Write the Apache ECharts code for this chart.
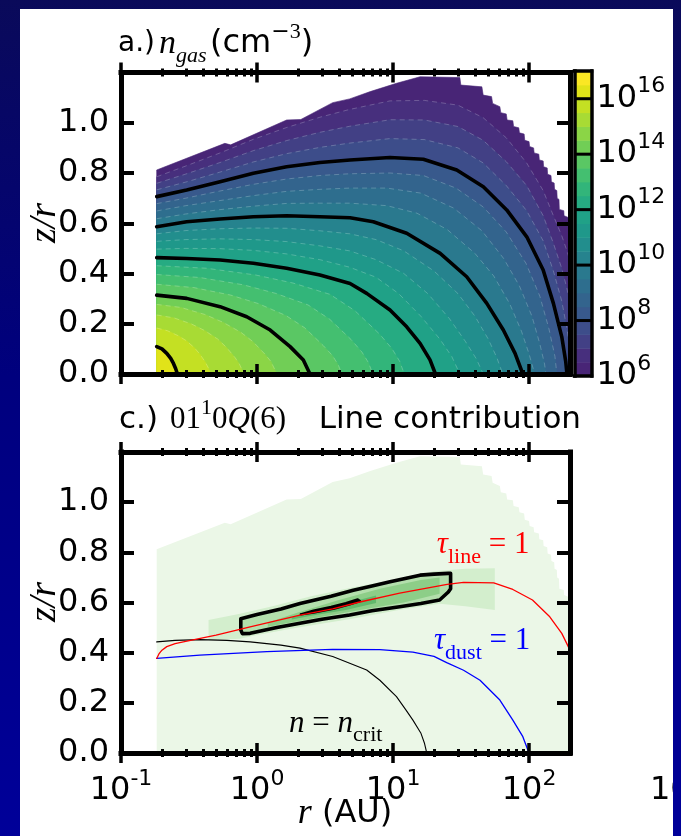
<!DOCTYPE html>
<html>
<head>
<meta charset="utf-8">
<title>Gas density and line contribution</title>
<script src="https://cdn.jsdelivr.net/npm/echarts@6.0.0/dist/echarts.min.js"></script>
<style>
  html, body { margin: 0; padding: 0; }
  body { width: 681px; height: 836px; overflow: hidden; position: relative;
         background: linear-gradient(to bottom, #0a0a5a 0%, #00007e 45%, #000099 100%); }
  #chart { position: absolute; left: 20px; top: 9px; width: 653px; height: 827px;
           background: #fff; overflow: hidden; }
</style>
</head>
<body>
<div id="chart"></div>
<script>
// ---------------- model grid ----------------
const rInner = 0.183;   // AU
const rOuter = 200;     // AU

// upper boundary of the model grid (r [AU], z/r)
const modelEdge = [
  [0.183,0.812],[0.58,0.918],[0.64,0.912],[1.65,1.011],[2.1,1.013],[3.6,1.08],[4.8,1.095],
  [6.8,1.124],[10.6,1.157],[15.8,1.183],[31,1.18],[31.5,1.15],[45,1.143],[46,1.11],[53,1.104],
  [54,1.077],[61,1.064],[62,1.04],[68,1.035],[69,1.011],[76,1.008],[77,0.985],[84,0.98],[85,0.96],
  [92,0.955],[93,0.93],[100,0.925],[101,0.905],[108,0.9],[109,0.88],[118,0.875],[119,0.852],
  [127,0.848],[128,0.825],[136,0.82],[137,0.795],[145,0.79],[146,0.765],[153,0.76],[154,0.735],
  [160,0.73],[161,0.7],[166,0.695],[167,0.655],[180,0.65],[181,0.63],[200,0.62]
];

// ---------------- panel a: n_gas ----------------
// filled-contour levels, log10(n / cm^-3)
const nLevels = [6, 6.5, 7, 7.5, 8, 8.5, 9, 9.5, 10, 10.5, 11, 11.5, 12, 12.5, 13, 13.5, 14, 14.5, 15, 15.5, 16];
const nBoldLevels = [8, 10, 12, 14, 16];
const colorbarLevels = [6, 6.5, 7, 7.5, 8, 8.5, 9, 9.5, 10, 10.5, 11, 11.5, 12, 12.5, 13, 13.5, 14, 14.5, 15, 15.5, 16, 16.5, 17];
const colorbarTicks = [1e6, 1e8, 1e10, 1e12, 1e14, 1e16];

// contour traces (r [AU], z/r), from the inner edge down to the midplane / outer edge
const n6_5 = [[0.183,0.785],[0.3,0.828],[0.53,0.879],[0.94,0.934],[1.65,0.981],[2.9,1.022],[4.8,1.053],[9.5,1.087],[17,1.089],[30,1.07],[46,1.02],[68,0.94],[96,0.84],[127,0.73],[151,0.63],[174,0.55],[190,0.49],[200,0.45]];
const n7_0 = [[0.183,0.759],[0.3,0.796],[0.53,0.841],[0.94,0.889],[1.65,0.929],[2.9,0.962],[4.8,0.986],[9.5,1.012],[17,1.011],[30,0.985],[46,0.93],[68,0.845],[96,0.75],[127,0.63],[151,0.52],[174,0.42],[190,0.34],[200,0.28]];
const n7_5 = [[0.183,0.733],[0.3,0.764],[0.53,0.803],[0.94,0.844],[1.65,0.877],[2.9,0.902],[4.8,0.919],[9.5,0.937],[17,0.933],[30,0.9],[46,0.84],[68,0.75],[96,0.65],[127,0.53],[151,0.41],[174,0.29],[190,0.18],[200,0.1]];
const n8_0 = [[0.183,0.706],[0.304,0.732],[0.535,0.765],[0.94,0.799],[1.65,0.825],[2.9,0.842],[4.83,0.852],[9.5,0.862],[16.7,0.855],[29.4,0.812],[46.1,0.745],[68.5,0.653],[96.2,0.546],[127,0.414],[151,0.281],[174,0.148],[186,0.05],[190,0]];
const n8_5 = [[0.183,0.678],[0.3,0.7],[0.53,0.728],[0.94,0.755],[1.65,0.776],[2.9,0.79],[4.8,0.797],[9.5,0.8],[16.7,0.79],[29,0.74],[46,0.665],[68,0.565],[95,0.44],[120,0.31],[140,0.18],[155,0.07],[160,0]];
const n9_0 = [[0.183,0.649],[0.3,0.67],[0.53,0.69],[0.94,0.71],[1.65,0.727],[2.9,0.735],[4.8,0.74],[9,0.74],[16,0.72],[28,0.66],[45,0.57],[65,0.46],[85,0.35],[105,0.23],[120,0.12],[130,0.04],[133,0]];
const n9_5 = [[0.183,0.618],[0.3,0.637],[0.53,0.654],[0.94,0.668],[1.65,0.679],[2.9,0.68],[4.8,0.68],[9,0.67],[15,0.64],[25,0.575],[40,0.48],[55,0.39],[72,0.28],[88,0.17],[100,0.08],[110,0]];
const n10_0 = [[0.183,0.586],[0.304,0.606],[0.535,0.617],[0.94,0.626],[1.65,0.63],[2.9,0.626],[4.83,0.622],[7.16,0.606],[12.6,0.56],[22.2,0.48],[34.8,0.387],[48.9,0.281],[64.7,0.175],[78.9,0.082],[90,0]];
const n10_5 = [[0.183,0.558],[0.3,0.571],[0.53,0.578],[0.94,0.581],[1.65,0.58],[2.9,0.57],[4.8,0.558],[7.5,0.535],[12,0.49],[20,0.41],[30,0.32],[40,0.23],[50,0.14],[58,0.065],[64,0]];
const n11_0 = [[0.183,0.528],[0.3,0.535],[0.53,0.538],[0.94,0.535],[1.65,0.527],[2.9,0.51],[4.8,0.49],[7.5,0.455],[12,0.4],[18,0.32],[26,0.22],[34,0.13],[41,0.06],[46,0]];
const n11_5 = [[0.183,0.497],[0.3,0.5],[0.53,0.499],[0.94,0.492],[1.65,0.478],[2.9,0.455],[4.8,0.425],[7.5,0.385],[11,0.32],[16,0.23],[22,0.14],[27,0.07],[31,0]];
const n12_0 = [[0.183,0.463],[0.304,0.46],[0.535,0.454],[0.94,0.441],[1.65,0.421],[2.9,0.394],[4.83,0.36],[6.4,0.321],[9.5,0.255],[12.6,0.188],[15.8,0.122],[18.7,0.056],[20.5,0]];
const n12_5 = [[0.183,0.431],[0.423,0.421],[0.978,0.394],[1.84,0.362],[3.44,0.317],[5.24,0.252],[7.96,0.159],[9.82,0.101],[11.2,0.05],[12.1,0]];
const n13_0 = [[0.183,0.396],[0.38,0.384],[0.791,0.355],[1.37,0.321],[2.37,0.275],[3.42,0.218],[4.92,0.137],[5.91,0.087],[6.6,0.045],[7.1,0]];
const n13_5 = [[0.183,0.357],[0.343,0.344],[0.641,0.314],[1.025,0.28],[1.64,0.232],[2.24,0.184],[3.07,0.113],[3.59,0.073],[3.95,0.037],[4.2,0]];
const n14_0 = [[0.183,0.314],[0.304,0.301],[0.535,0.268],[0.84,0.228],[1.25,0.175],[1.75,0.109],[2.19,0.056],[2.45,0]];
const n14_5 = [[0.183,0.277],[0.275,0.265],[0.413,0.237],[0.561,0.206],[0.76,0.166],[0.933,0.129],[1.143,0.079],[1.265,0.05],[1.4,0]];
const n15_0 = [[0.183,0.235],[0.246,0.223],[0.33,0.199],[0.412,0.173],[0.514,0.139],[0.596,0.106],[0.69,0.065],[0.743,0.039],[0.8,0]];
const n15_5 = [[0.183,0.183],[0.22,0.172],[0.264,0.152],[0.303,0.132],[0.347,0.104],[0.38,0.079],[0.416,0.048],[0.436,0.027],[0.456,0]];
const n16_0 = [[0.183,0.109],[0.2,0.1],[0.217,0.082],[0.232,0.062],[0.243,0.042],[0.252,0.022],[0.26,0]];

// level 6 fills the whole model grid
const nTraces = [null, n6_5, n7_0, n7_5, n8_0, n8_5, n9_0, n9_5, n10_0, n10_5, n11_0, n11_5,
                 n12_0, n12_5, n13_0, n13_5, n14_0, n14_5, n15_0, n15_5, n16_0];

// ---------------- panel c: 01^10 Q(6) line contribution ----------------
const emitHalo = [[0.44,0.45],[0.44,0.53],[0.75,0.555],[1.3,0.585],[2.5,0.625],[5,0.66],[10,0.69],[20,0.725],[34,0.735],[56,0.737],[56,0.57],[34,0.585],[22,0.595],[11,0.57],[5,0.535],[2,0.5],[1,0.47],[0.75,0.455],[0.44,0.45]];
const emitBody = [[0.76,0.535],[1,0.552],[1.5,0.574],[2.07,0.596],[3.5,0.625],[5.1,0.649],[7,0.666],[9.5,0.683],[12.5,0.697],[15.8,0.709],[20,0.713],[25.5,0.716],[26.5,0.716],[26.5,0.655],[25.5,0.642],[22,0.61],[16,0.596],[11.2,0.583],[7,0.567],[4.8,0.55],[3,0.533],[2.07,0.517],[1.4,0.5],[0.89,0.477],[0.78,0.476],[0.76,0.49],[0.76,0.535]];
const emitMid = [[1.2,0.52],[2,0.56],[4,0.61],[8,0.655],[16,0.69],[22,0.7],[22,0.635],[12,0.6],[6,0.572],[3,0.543],[1.2,0.503]];
const emitPeak = [[1.8,0.54],[3,0.573],[5,0.603],[7.5,0.628],[7.5,0.598],[4.5,0.57],[2.5,0.547],[1.8,0.532]];
const emitPeakEdge = [[2.1,0.553],[2.6,0.567],[3.5,0.582],[4.5,0.597],[5.5,0.612],[5.7,0.606],[4.8,0.593],[3.7,0.576],[2.6,0.56],[2.1,0.553]];

const tauLine = [[0.183,0.377],[0.19,0.395],[0.2,0.41],[0.217,0.424],[0.25,0.436],[0.287,0.443],[0.5,0.47],[0.89,0.503],[2.07,0.55],[3.6,0.575],[5.5,0.6],[11.2,0.637],[25,0.672],[33,0.68],[55,0.678],[76,0.652],[106,0.61],[142,0.543],[174,0.477],[200,0.41]];
const tauDust = [[0.183,0.377],[0.38,0.39],[1.18,0.404],[3.6,0.413],[8,0.412],[14,0.402],[20,0.385],[24.8,0.36],[33,0.33],[43.6,0.29],[61,0.211],[76,0.131],[90,0.065],[98,0.012],[100,0]];
const nCrit = [[0.183,0.443],[0.25,0.449],[0.38,0.452],[0.6,0.449],[0.89,0.443],[1.5,0.43],[2.07,0.418],[3.6,0.385],[6.4,0.331],[8,0.29],[10.6,0.225],[12.5,0.17],[14,0.131],[16,0.08],[17,0.04],[17.7,0]];

// ---------------- axis ticks ----------------
const rMajor = [0.1, 1, 10, 100];
const rMinor = [0.2,0.3,0.4,0.5,0.6,0.7,0.8,0.9,2,3,4,5,6,7,8,9,20,30,40,50,60,70,80,90];
const zrTicks = [0, 0.2, 0.4, 0.6, 0.8, 1.0];

// ---------------- colours ----------------
const viridisTable = ['#440154','#471164','#482475','#472f7d','#414487','#3b528b','#355f8d','#2f6c8e',
  '#2a788e','#25848e','#21918c','#1e9c89','#22a884','#2fb47c','#44bf70','#5ec962','#7ad151',
  '#9bd93c','#bddf26','#dfe318','#fde725'];
function hexRgb(h) { return [parseInt(h.slice(1,3),16), parseInt(h.slice(3,5),16), parseInt(h.slice(5,7),16)]; }
function viridis(t) {
  t = Math.max(0, Math.min(1, t));
  const x = t * (viridisTable.length - 1);
  const i = Math.min(Math.floor(x), viridisTable.length - 2);
  const f = x - i;
  const a = hexRgb(viridisTable[i]), b = hexRgb(viridisTable[i + 1]);
  return 'rgb(' + a.map((v, k) => Math.round(v + (b[k] - v) * f)).join(',') + ')';
}
const normLo = 5.0, normHi = 16.8;   // colour scale limits, log10 n
function bandColor(lvl) { return viridis((lvl + 0.25 - normLo) / (normHi - normLo)); }
const greenShades = ['#ebf7e7', '#d3eecd', '#b3dfac', '#8dce88', '#62b96c'];

// ---------------- chart ----------------
const SANS = 'DejaVu Sans';
const SERIF = 'Liberation Serif';
const spine = { show: true, onZero: false, lineStyle: { color: '#000', width: 5, cap: 'square' } };
const powRich = {
  b: { fontFamily: SANS, fontSize: 32, lineHeight: 46, verticalAlign: 'middle', color: '#000' },
  s: { fontFamily: SANS, fontSize: 22, lineHeight: 26, verticalAlign: 'top', color: '#000' }
};
function powLabel(v) {
  const e = Math.round(Math.log10(v));
  return '{b|10}{s|' + (e < 0 ? '-' + (-e) : e) + '}';
}

function rAxes(grid, labelled) {
  const base = { type: 'log', logBase: 10, min: 0.1, max: 200, gridIndex: grid, splitLine: { show: false }, z: 10 };
  const major = { inside: true, length: 20, customValues: rMajor, lineStyle: { color: '#000', width: 3.5 } };
  const minor = { inside: true, length: 8, customValues: rMinor, lineStyle: { color: '#000', width: 3 } };
  const none = { show: false };
  const hidden = { show: false, onZero: false };
  return [
    Object.assign({}, base, { position: 'bottom', axisLine: spine, axisTick: none,
      axisLabel: labelled ? { customValues: rMajor, formatter: powLabel, rich: powRich, margin: 15 } : none }),
    Object.assign({}, base, { position: 'top', axisLine: spine, axisTick: none, axisLabel: none }),
    Object.assign({}, base, { position: 'bottom', offset: 10, axisLine: hidden, axisTick: major, axisLabel: none }),
    Object.assign({}, base, { position: 'bottom', offset: 4, axisLine: hidden, axisTick: minor, axisLabel: none }),
    Object.assign({}, base, { position: 'top', offset: 10, axisLine: hidden, axisTick: major, axisLabel: none }),
    Object.assign({}, base, { position: 'top', offset: 4, axisLine: hidden, axisTick: minor, axisLabel: none })
  ];
}
function zrAxes(grid) {
  const base = { type: 'value', min: 0, max: 1.2, gridIndex: grid, splitLine: { show: false }, z: 10,
    axisLine: spine,
    axisTick: { inside: true, length: 13, customValues: zrTicks, lineStyle: { color: '#000', width: 4 } } };
  return [
    Object.assign({}, base, { position: 'left',
      axisLabel: { customValues: zrTicks, formatter: v => v.toFixed(1), fontFamily: SANS, fontSize: 32, color: '#000', margin: 12 } }),
    Object.assign({}, base, { position: 'right', axisLabel: { show: false } })
  ];
}
const cbFrame = { show: true, onZero: false, lineStyle: { color: '#000', width: 3.5, cap: 'square' } };
const cbX = pos => ({ type: 'value', min: 0, max: 1, gridIndex: 2, position: pos, axisLine: cbFrame,
  axisTick: { show: false }, axisLabel: { show: false }, splitLine: { show: false }, z: 10 });
const cbY = (pos, labelled) => ({ type: 'log', logBase: 10, min: 1e6, max: 1e17, gridIndex: 2, position: pos,
  axisLine: cbFrame, axisTick: { show: false }, splitLine: { show: false }, z: 10,
  axisLabel: labelled ? { customValues: colorbarTicks, formatter: powLabel, rich: powRich, margin: 5 } : { show: false } });

function levelRing(i) {
  const trace = nTraces[i];
  if (!trace) return [[rInner, 0]].concat(modelEdge, [[rOuter, 0]]);
  const ring = trace.slice();
  if (trace[trace.length - 1][1] > 0) ring.push([rOuter, 0]);
  ring.push([rInner, 0]);
  return ring;
}

function renderDensity(params, api) {
  const i = params.dataIndex;
  const lvl = nLevels[i];
  const children = [{ type: 'polygon', shape: { points: levelRing(i).map(p => api.coord(p)) },
    style: { fill: bandColor(lvl), stroke: bandColor(lvl), lineWidth: 0.6 } }];
  const trace = nTraces[i];
  if (trace && nBoldLevels.indexOf(lvl) < 0) {
    children.push({ type: 'polyline', shape: { points: trace.map(p => api.coord(p)) },
      style: { fill: null, stroke: 'rgba(255,255,255,0.22)', lineWidth: 1, lineDash: [5, 4] } });
  }
  return { type: 'group', children: children };
}

function renderColorbar(params, api) {
  const i = params.dataIndex;
  const a = api.coord([0, Math.pow(10, colorbarLevels[i])]);
  const b = api.coord([1, Math.pow(10, colorbarLevels[i + 1])]);
  return { type: 'rect', shape: { x: a[0], y: b[1], width: b[0] - a[0], height: a[1] - b[1] + 0.5 },
    style: { fill: bandColor(colorbarLevels[i]) } };
}
function renderColorbarLines(params, api) {
  const v = Math.pow(10, nBoldLevels[params.dataIndex]);
  const a = api.coord([0, v]), b = api.coord([1, v]);
  return { type: 'line', shape: { x1: a[0], y1: a[1], x2: b[0], y2: b[1] }, style: { stroke: '#000', lineWidth: 3 } };
}
const emitLayers = [null, emitHalo, emitBody, emitMid, emitPeak];
function renderEmission(params, api) {
  const i = params.dataIndex;
  const ring = emitLayers[i] || [[rInner, 0]].concat(modelEdge, [[rOuter, 0]]);
  return { type: 'polygon', shape: { points: ring.map(p => api.coord(p)) }, style: { fill: greenShades[i] } };
}

function lineSeries(data, color, width, xi, yi, z) {
  return { type: 'line', data: data, xAxisIndex: xi, yAxisIndex: yi, symbol: 'none', silent: true,
    lineStyle: { color: color, width: width, join: 'round', cap: 'round' }, z: z || 4, animation: false };
}

const chart = echarts.init(document.getElementById('chart'), null, { renderer: 'canvas', width: 653, height: 827 });

const series = [
  { type: 'custom', xAxisIndex: 0, yAxisIndex: 0, renderItem: renderDensity, z: 1,
    data: nLevels.map((l, i) => [1, 0.5, i]), silent: true },
  { type: 'custom', xAxisIndex: 12, yAxisIndex: 4, renderItem: renderColorbar, z: 1,
    data: colorbarLevels.slice(0, -1).map((l, i) => [0.5, Math.pow(10, l + 0.25), i]), silent: true },
  { type: 'custom', xAxisIndex: 12, yAxisIndex: 4, renderItem: renderColorbarLines, z: 3,
    data: nBoldLevels.map((l, i) => [0.5, Math.pow(10, l), i]), silent: true },
  { type: 'custom', xAxisIndex: 6, yAxisIndex: 2, renderItem: renderEmission, z: 1,
    data: emitLayers.map((l, i) => [1, 0.5, i]), silent: true }
];
[n8_0, n10_0, n12_0, n14_0, n16_0].forEach(tr => series.push(lineSeries(tr, '#000', 3.6, 0, 0, 3)));
series.push(lineSeries(emitBody, '#000', 3.6, 6, 2, 3));
series.push(lineSeries(emitPeakEdge, '#000', 2.4, 6, 2, 3));
series.push(lineSeries(nCrit, '#000', 1.1, 6, 2, 4));
series.push(lineSeries(tauDust, '#0000ff', 1.3, 6, 2, 4));
series.push(lineSeries(tauLine, '#ff0000', 1.3, 6, 2, 5));

const gridBase = { containLabel: false, outerBoundsMode: 'none' };
chart.setOption({
  animation: false,
  backgroundColor: '#ffffff',
  grid: [
    Object.assign({ left: 101, top: 63.5, width: 449, height: 301.5 }, gridBase),
    Object.assign({ left: 101, top: 443, width: 449, height: 301 }, gridBase),
    Object.assign({ left: 554.5, top: 62, width: 17, height: 305 }, gridBase)
  ],
  xAxis: [].concat(rAxes(0, false), rAxes(1, true), [cbX('bottom'), cbX('top')]),
  yAxis: [].concat(zrAxes(0), zrAxes(1), [cbY('left', false), cbY('right', true)]),
  series: series
});

// ---------------- titles, axis names and annotations ----------------
const textRich = (size, color) => ({
  i: { fontFamily: SERIF, fontStyle: 'italic', fontSize: size, lineHeight: 46, verticalAlign: 'middle', fill: color },
  r: { fontFamily: SERIF, fontSize: size, lineHeight: 46, verticalAlign: 'middle', fill: color },
  sb: { fontFamily: SERIF, fontSize: Math.round(size * 0.7), lineHeight: 24, verticalAlign: 'bottom', fill: color },
  sbi: { fontFamily: SERIF, fontStyle: 'italic', fontSize: Math.round(size * 0.66), lineHeight: 24, verticalAlign: 'bottom', fill: color },
  sp: { fontFamily: SERIF, fontSize: Math.round(size * 0.7), lineHeight: 26, verticalAlign: 'top', fill: color },
  spm: { fontFamily: SANS, fontSize: Math.round(size * 0.7), lineHeight: 26, verticalAlign: 'top', fill: color },
  p: { fontFamily: SANS, fontSize: size, lineHeight: 46, verticalAlign: 'middle', fill: color }
});
function txt(x, y, text, rich, align, rotation) {
  return { type: 'text', x: x, y: y, rotation: rotation || 0, z: 50, silent: true,
    style: { text: text, rich: rich, align: align || 'left', verticalAlign: 'middle' } };
}
const annotations = [
  { text: '{i|τ}{sb|line}{r| = 1}', r: 21.0, zr: 0.83, color: '#ff0000' },
  { text: '{i|τ}{sb|dust}{r| = 1}', r: 20.0, zr: 0.446, color: '#0000ff' },
  { text: '{i|n}{r| = }{i|n}{sb|crit}', r: 1.72, zr: 0.118, color: '#000000' }
];
const g = [
  txt(98, 35, '{p|a.)}', textRich(28, '#000')),
  txt(139, 35, '{i|n}{sbi|gas}', textRich(34, '#000')),
  txt(190, 35, '{p|(cm}{spm|−}{sp|3}{p|)}', textRich(32, '#000')),
  txt(99, 411, '{p|c.)}', textRich(31, '#000')),
  txt(150, 411, '{r|01}{sp|1}{r|0}{i|Q}{r|(6)}', textRich(31, '#000')),
  txt(561, 411, '{p|Line contribution}', textRich(31, '#000'), 'right'),
  // axis names
  txt(25, 214, '{i|z/r}', textRich(38, '#000'), 'center', Math.PI / 2),
  txt(25, 593, '{i|z/r}', textRich(38, '#000'), 'center', Math.PI / 2),
  txt(325, 805, '{i|r}{p| (AU)}', Object.assign(textRich(32, '#000'), {
    i: { fontFamily: SERIF, fontStyle: 'italic', fontSize: 36, lineHeight: 46, verticalAlign: 'middle', fill: '#000' } }), 'center')
];
annotations.forEach(a => {
  const p = chart.convertToPixel({ xAxisIndex: 6, yAxisIndex: 2 }, [a.r, a.zr]);
  g.push(txt(p[0], p[1], a.text, textRich(31, a.color)));
});
// first tick label of the neighbouring panel, cut off by the slide frame
g.push({ type: 'text', x: 630, y: 759, z: 50, silent: true,
  style: { text: '{b|10}', rich: powRich, align: 'left', verticalAlign: 'top' } });
chart.setOption({ graphic: g });
</script>
</body>
</html>
